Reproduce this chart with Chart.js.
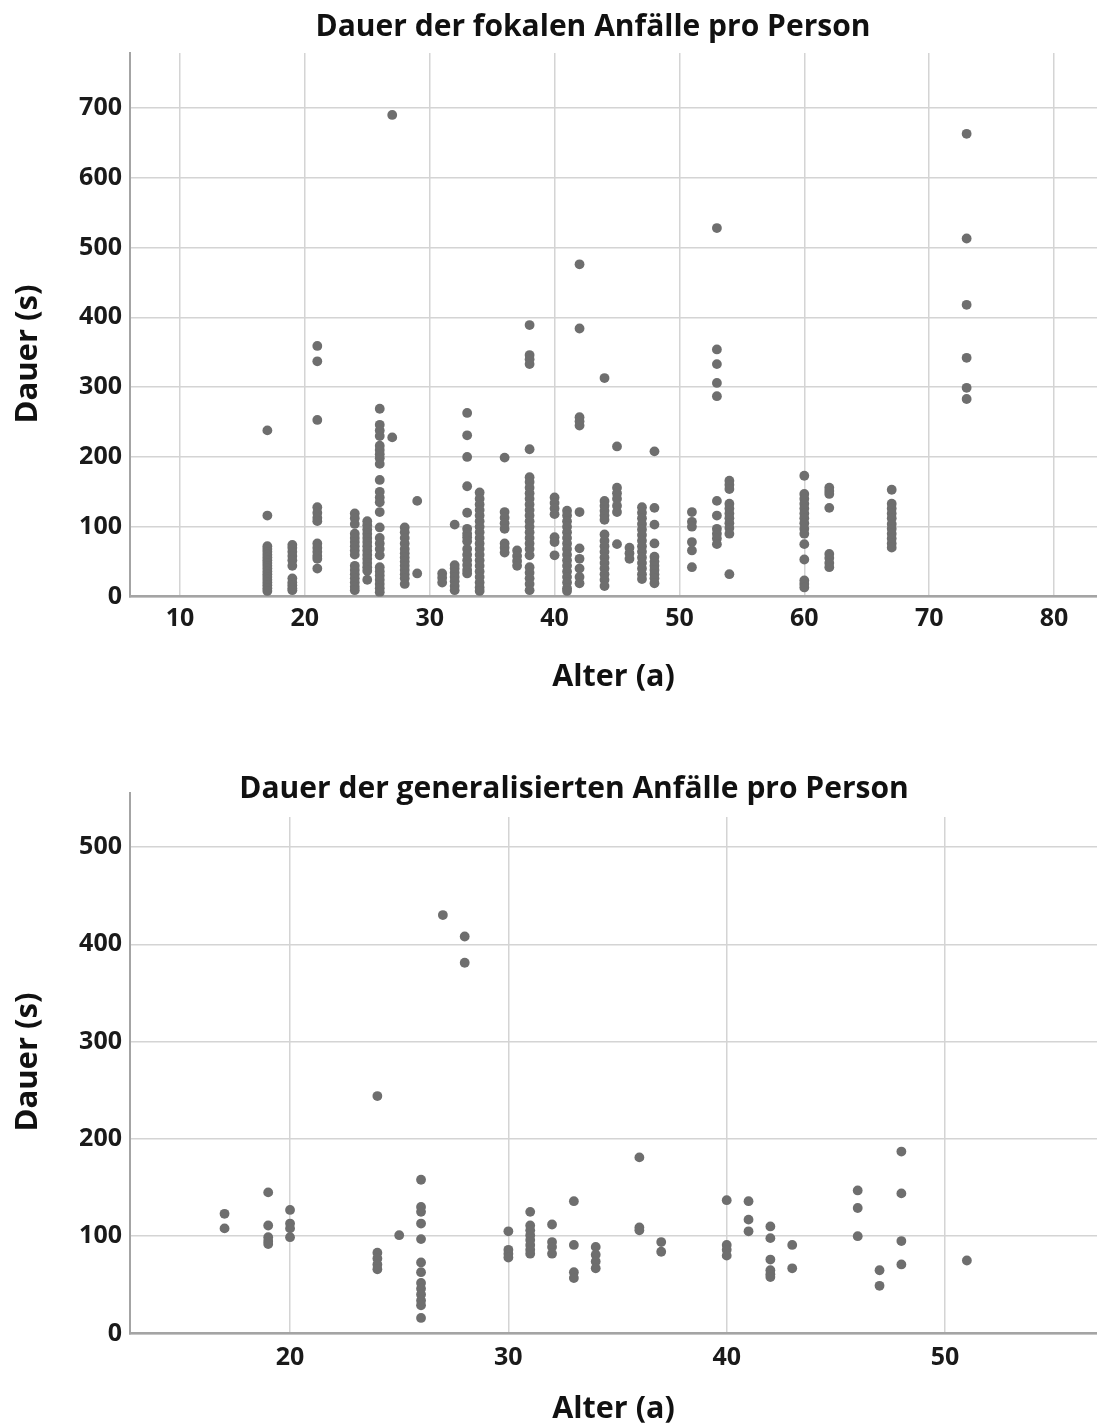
<!DOCTYPE html>
<html lang="de">
<head>
<meta charset="utf-8">
<title>Dauer der Anfälle pro Person</title>
<script src="https://cdn.jsdelivr.net/npm/chart.js@4.4.1/dist/chart.umd.min.js"></script>
<style>
  html, body { margin: 0; padding: 0; background: #fff; }
  body { width: 1097px; height: 1426px; position: relative; overflow: hidden; }
  canvas { position: absolute; left: 0; }
  #diagrammFokal { top: 0; }
  #diagrammGeneral { top: 720px; }
  .titel {
    position: absolute; left: 0; width: 1186px; z-index: 2;
    text-align: center; font: bold 30px "Open Sans", sans-serif; line-height: 34px; color: #111;
  }
  #titelFokal { top: 8px; }
  #titelGeneral { top: 770px; width: 1148px; }
</style>
</head>
<body>
<div class="titel" id="titelFokal">Dauer der fokalen Anfälle pro Person</div>
<div class="titel" id="titelGeneral">Dauer der generalisierten Anfälle pro Person</div>
<canvas id="diagrammFokal" width="1097" height="720"></canvas>
<canvas id="diagrammGeneral" width="1097" height="706"></canvas>

<script>
// Fokale Anfälle: Alter der Person und die Dauer (s) jedes einzelnen Anfalls
const fokalAlter = [17, 19, 21, 24, 25, 26, 27, 28, 29, 31, 32, 33, 34, 36, 37, 38, 40, 41, 42, 44, 45, 46, 47, 48, 51, 53, 54, 60, 62, 67, 73];
const fokalDauer = [
  [238, 116, 72, 68, 64, 60, 56, 52, 48, 44, 40, 36, 32, 28, 24, 20, 16, 12, 8],
  [74, 70, 64, 58, 52, 44, 26, 20, 16, 12, 9],
  [359, 337, 253, 128, 120, 113, 108, 76, 70, 64, 58, 54, 40],
  [119, 112, 104, 90, 84, 78, 72, 66, 60, 44, 38, 32, 26, 20, 14, 9],
  [108, 102, 96, 90, 84, 78, 72, 66, 60, 54, 48, 42, 37, 24],
  [269, 246, 238, 230, 216, 210, 204, 198, 190, 167, 150, 142, 135, 121, 99, 84, 76, 68, 59, 42, 36, 30, 24, 18, 12, 6],
  [690, 228],
  [99, 92, 84, 76, 68, 62, 56, 50, 44, 38, 32, 26, 18],
  [137, 33],
  [33, 27, 20],
  [103, 45, 40, 34, 28, 22, 15, 9],
  [263, 231, 200, 158, 120, 97, 90, 85, 79, 68, 60, 52, 45, 38, 33],
  [149, 140, 132, 124, 116, 108, 100, 92, 84, 76, 68, 60, 52, 44, 36, 28, 20, 13, 8],
  [199, 121, 113, 105, 97, 76, 70, 63],
  [66, 58, 51, 44],
  [389, 346, 340, 333, 211, 171, 164, 156, 148, 140, 132, 124, 116, 108, 100, 92, 84, 76, 68, 59, 42, 34, 26, 18, 9],
  [142, 134, 126, 118, 85, 78, 59],
  [123, 116, 108, 100, 92, 84, 76, 68, 60, 52, 44, 36, 28, 20, 12, 8],
  [476, 384, 257, 251, 245, 121, 69, 54, 40, 28, 19],
  [313, 137, 130, 123, 116, 110, 89, 80, 72, 64, 56, 48, 40, 32, 24, 15],
  [215, 156, 148, 140, 130, 121, 75],
  [70, 62, 54],
  [128, 120, 112, 104, 96, 88, 80, 72, 64, 56, 48, 40, 32, 25],
  [208, 127, 103, 76, 57, 50, 44, 38, 32, 26, 19],
  [121, 107, 100, 78, 66, 42],
  [528, 354, 333, 306, 287, 137, 116, 97, 90, 83, 75],
  [166, 160, 154, 133, 126, 119, 112, 105, 98, 90, 32],
  [173, 147, 140, 133, 126, 119, 112, 105, 97, 90, 75, 53, 23, 18, 13],
  [156, 151, 147, 127, 61, 55, 48, 42],
  [153, 133, 126, 119, 112, 104, 97, 90, 83, 76, 70],
  [663, 513, 418, 342, 299, 283]
];
const fokalTicksX = [10, 20, 30, 40, 50, 60, 70, 80];
const fokalTicksY = [0, 100, 200, 300, 400, 500, 600, 700];

// Generalisierte Anfälle
const generalAlter = [17, 19, 20, 24, 25, 26, 27, 28, 30, 31, 32, 33, 34, 36, 37, 40, 41, 42, 43, 46, 47, 48, 51];
const generalDauer = [
  [123, 108],
  [145, 111, 99, 95, 92],
  [127, 113, 108, 99],
  [244, 83, 77, 71, 66],
  [101],
  [158, 130, 125, 113, 97, 73, 63, 52, 46, 40, 34, 29, 16],
  [430],
  [408, 381],
  [105, 86, 82, 78],
  [125, 111, 106, 101, 96, 91, 86, 82],
  [112, 94, 89, 82],
  [136, 91, 63, 57],
  [89, 81, 74, 67],
  [181, 109, 106],
  [94, 84],
  [137, 91, 86, 80],
  [136, 117, 105],
  [110, 98, 76, 65, 61, 58],
  [91, 67],
  [147, 129, 100],
  [65, 49],
  [187, 144, 95, 71],
  [75]
];
const generalTicksX = [20, 30, 40, 50];
const generalTicksY = [0, 100, 200, 300, 400, 500];

const SCHRIFT = '"Open Sans", sans-serif';
const PUNKTFARBE = '#6e6e6e';
const GITTER = '#d4d4d4';
const ACHSE = '#a4a4a4';

// verlängert die linke Achse ein Stück über den Plotbereich hinaus
// und schreibt den senkrechten Achsentitel
const achsenExtras = {
  id: 'achsenExtras',
  afterDraw(chart, args, opts) {
    const { ctx, chartArea } = chart;
    ctx.save();
    if (opts.laenge) {
      ctx.strokeStyle = ACHSE;
      ctx.lineWidth = 2;
      ctx.beginPath();
      ctx.moveTo(chartArea.left, chartArea.top - opts.laenge);
      ctx.lineTo(chartArea.left, chartArea.top);
      ctx.stroke();
    }
    ctx.translate(opts.titelX, opts.titelY);
    ctx.rotate(-Math.PI / 2);
    ctx.fillStyle = '#111';
    ctx.font = 'bold 31px ' + SCHRIFT;
    ctx.textAlign = 'center';
    ctx.textBaseline = 'middle';
    ctx.fillText(opts.text, 0, 0);
    ctx.restore();
  }
};

function punkteAus(alter, dauer) {
  return alter.flatMap((a, i) => dauer[i].map(d => ({ x: a, y: d })));
}

function streuDiagramm(id, punkte, e) {
  return new Chart(document.getElementById(id), {
    type: 'scatter',
    data: {
      datasets: [{
        data: punkte,
        backgroundColor: PUNKTFARBE,
        borderWidth: 0,
        pointRadius: 4.9,
        pointHoverRadius: 4.9
      }]
    },
    plugins: [achsenExtras],
    options: {
      responsive: false,
      animation: false,
      layout: { autoPadding: false, padding: { top: e.oben, left: 0, right: 0, bottom: 0 } },
      plugins: {
        legend: { display: false },
        tooltip: { enabled: false },
        achsenExtras: { laenge: e.verlaengerung, text: 'Dauer (s)', titelX: 28, titelY: e.titelY }
      },
      scales: {
        x: {
          type: 'linear',
          min: e.xMin,
          max: e.xMax,
          afterBuildTicks: s => { s.ticks = e.ticksX.map(v => ({ value: v })); },
          afterFit: s => { s.height = e.hoeheX; s.paddingLeft = 0; s.paddingRight = 0; },
          grid: { color: GITTER, lineWidth: 1.5, drawTicks: false },
          border: { color: ACHSE, width: 2.5 },
          ticks: { color: '#1a1a1a', padding: e.tickAbstand, font: { family: SCHRIFT, size: 25, weight: 'bold' } },
          title: {
            display: true,
            text: 'Alter (a)',
            color: '#111',
            font: { family: SCHRIFT, size: 30.5, weight: 'bold', lineHeight: 1 },
            padding: { top: 0, bottom: e.titelAbstandX }
          }
        },
        y: {
          type: 'linear',
          min: 0,
          max: e.yMax,
          afterBuildTicks: s => { s.ticks = e.ticksY.map(v => ({ value: v })); },
          afterFit: s => { s.width = 130; s.paddingTop = 0; s.paddingBottom = 0; },
          grid: { color: GITTER, lineWidth: 1.5, drawTicks: false },
          border: { color: ACHSE, width: 2 },
          ticks: { color: '#1a1a1a', padding: 8, font: { family: SCHRIFT, size: 25, weight: 'bold' } }
        }
      }
    }
  });
}

streuDiagramm('diagrammFokal', punkteAus(fokalAlter, fokalDauer), {
  oben: 53, hoeheX: 123.5, xMin: 6, xMax: 83.44, yMax: 778.8, titelY: 354,
  ticksX: fokalTicksX, ticksY: fokalTicksY, tickAbstand: 7, titelAbstandX: 27, verlaengerung: 0
});

streuDiagramm('diagrammGeneral', punkteAus(generalAlter, generalDauer), {
  oben: 97, hoeheX: 92.5, xMin: 12.67, xMax: 56.96, yMax: 530.8, titelY: 342,
  ticksX: generalTicksX, ticksY: generalTicksY, tickAbstand: 9, titelAbstandX: 1, verlaengerung: 25
});
</script>
</body>
</html>
